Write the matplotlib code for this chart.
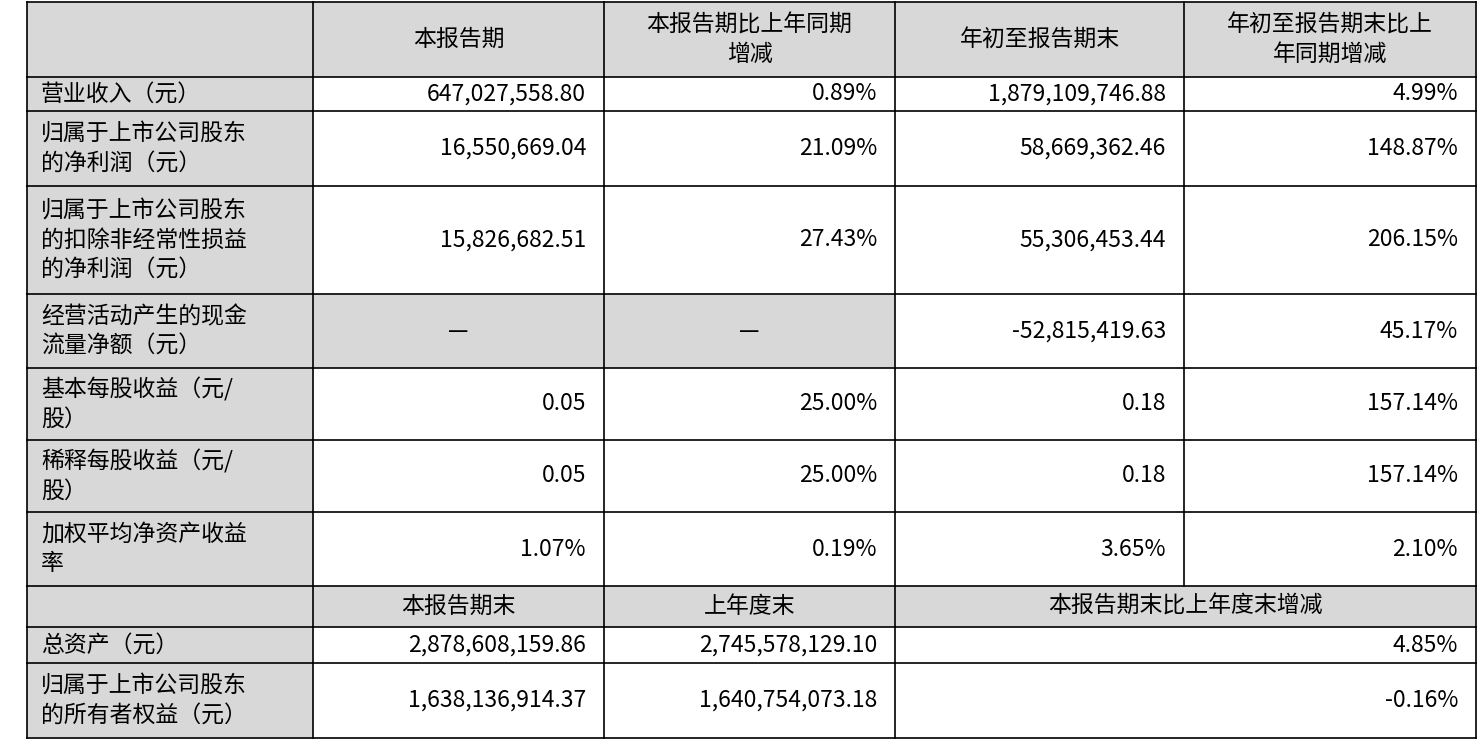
import matplotlib
matplotlib.use("Agg")
import matplotlib.pyplot as plt
from matplotlib.patches import Rectangle

plt.rcParams['font.family'] = ['Noto Sans CJK SC', 'DejaVu Sans']

header1 = ["", "本报告期", "本报告期比上年同期\n增减", "年初至报告期末", "年初至报告期末比上\n年同期增减"]
row_labels1 = ["营业收入（元）", "归属于上市公司股东\n的净利润（元）", "归属于上市公司股东\n的扣除非经常性损益\n的净利润（元）",
               "经营活动产生的现金\n流量净额（元）", "基本每股收益（元/\n股）", "稀释每股收益（元/\n股）", "加权平均净资产收益\n率"]
col_current = ["647,027,558.80", "16,550,669.04", "15,826,682.51", "—", "0.05", "0.05", "1.07%"]
col_current_chg = ["0.89%", "21.09%", "27.43%", "—", "25.00%", "25.00%", "0.19%"]
col_ytd = ["1,879,109,746.88", "58,669,362.46", "55,306,453.44", "-52,815,419.63", "0.18", "0.18", "3.65%"]
col_ytd_chg = ["4.99%", "148.87%", "206.15%", "45.17%", "157.14%", "157.14%", "2.10%"]
header2 = ["", "本报告期末", "上年度末", "本报告期末比上年度末增减"]
row_labels2 = ["总资产（元）", "归属于上市公司股东\n的所有者权益（元）"]
col_end = ["2,878,608,159.86", "1,638,136,914.37"]
col_prev_end = ["2,745,578,129.10", "1,640,754,073.18"]
col_end_chg = ["4.85%", "-0.16%"]

xs = [27, 313, 604, 895, 1184, 1476]
ys = [2, 77, 111, 186, 294, 368, 440, 512, 586, 627, 663, 738]
gray = "#d8d8d8"
fs = 16.5

fig = plt.figure(figsize=(14.84, 7.44), dpi=100)
ax = fig.add_axes([0, 0, 1, 1])
ax.set_xlim(0, 1484); ax.set_ylim(744, 0); ax.axis('off')

def cell(x0, x1, y0, y1, text, align='center', fill=None):
    if fill:
        ax.add_patch(Rectangle((x0, y0), x1 - x0, y1 - y0, facecolor=fill, edgecolor='none', zorder=0))
    ym = (y0 + y1) / 2
    if align == 'center':
        ax.text((x0 + x1) / 2, ym, text, ha='center', va='center', fontsize=fs, linespacing=1.35)
    elif align == 'left':
        ax.text(x0 + 14, ym, text, ha='left', va='center', fontsize=fs, linespacing=1.35)
    else:
        ax.text(x1 - 18, ym, text, ha='right', va='center', fontsize=fs, linespacing=1.35)

# header 1
for j, h in enumerate(header1):
    cell(xs[j], xs[j + 1], ys[0], ys[1], h, fill=gray)
for i in range(len(row_labels1)):
    y0, y1 = ys[i + 1], ys[i + 2]
    cell(xs[0], xs[1], y0, y1, row_labels1[i], 'left', gray)
    for j, col in enumerate([col_current, col_current_chg, col_ytd, col_ytd_chg]):
        v = col[i]
        if v == "—":
            cell(xs[j + 1], xs[j + 2], y0, y1, v, 'center', gray)
        else:
            cell(xs[j + 1], xs[j + 2], y0, y1, v, 'right')
# header 2
y0, y1 = ys[8], ys[9]
cell(xs[0], xs[1], y0, y1, "", fill=gray)
cell(xs[1], xs[2], y0, y1, header2[1], fill=gray)
cell(xs[2], xs[3], y0, y1, header2[2], fill=gray)
cell(xs[3], xs[5], y0, y1, header2[3], fill=gray)
for i in range(len(row_labels2)):
    y0, y1 = ys[9 + i], ys[10 + i]
    cell(xs[0], xs[1], y0, y1, row_labels2[i], 'left', gray)
    cell(xs[1], xs[2], y0, y1, col_end[i], 'right')
    cell(xs[2], xs[3], y0, y1, col_prev_end[i], 'right')
    cell(xs[3], xs[5], y0, y1, col_end_chg[i], 'right')

# grid lines
lw = 1.2
for y in ys:
    ax.plot([xs[0], xs[-1]], [y, y], color='black', lw=lw)
for j, x in enumerate(xs):
    for k in range(len(ys) - 1):
        if j == 4 and k >= 8:
            continue
        ax.plot([x, x], [ys[k], ys[k + 1]], color='black', lw=lw)

fig.savefig("out.png", dpi=100, facecolor='white')
